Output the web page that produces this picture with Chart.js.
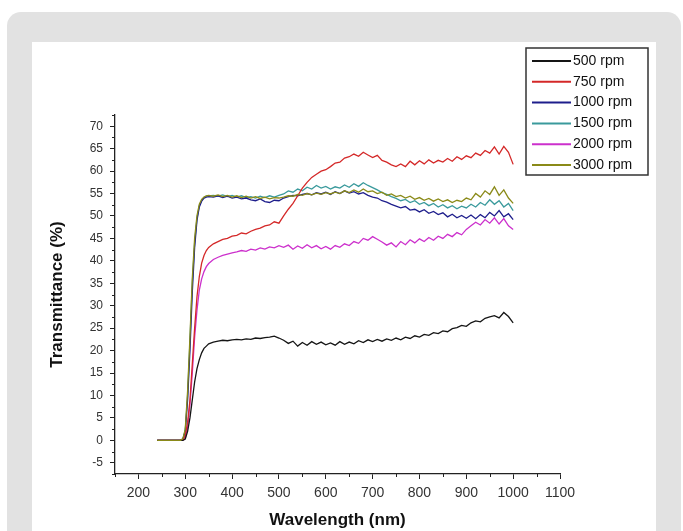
<!DOCTYPE html>
<html>
<head>
<meta charset="utf-8">
<script src="https://cdn.jsdelivr.net/npm/chart.js@4/dist/chart.umd.min.js"></script>
<style>
  html, body { margin:0; padding:0; background:#fff; width:683px; height:531px; overflow:hidden; }
  .panel { position:absolute; left:7px; top:12px; width:674px; height:540px; background:#e2e2e2; border-radius:14px 14px 0 0; }
  .card  { position:absolute; left:32px; top:42px; width:624px; height:500px; background:#fff; }
  #c { position:absolute; left:0; top:0; }
</style>
</head>
<body>
<div class="panel"></div>
<div class="card"></div>
<canvas id="c" width="683" height="531"></canvas>
<script>
const FONT = "'Liberation Sans', Arial, sans-serif";

// wavelength (nm)
const waves = [240, 290, 295, 300, 305, 310, 315, 320, 325, 330, 335, 340, 345, 350,
  360, 370, 380, 390, 400, 410, 420, 430, 440, 450, 460, 470, 480, 490, 500,
  510, 520, 530, 540, 550, 560, 570, 580, 590, 600, 610, 620, 630, 640, 650,
  660, 670, 680, 690, 700, 710, 720, 730, 740, 750, 760, 770, 780, 790, 800,
  810, 820, 830, 840, 850, 860, 870, 880, 890, 900, 910, 920, 930, 940, 950,
  960, 970, 980, 990, 1000];

const rpm500 = [0, 0, 0, 0.3, 2, 5, 9, 13, 16, 18, 19.5, 20.5, 21, 21.5,
  21.9, 22.1, 22.3, 22.2, 22.4, 22.5, 22.4, 22.6, 22.5, 22.8, 22.7, 22.9, 23.0, 23.2, 22.8,
  22.3, 21.6, 22.1, 21.0, 21.8, 21.2, 22.0, 21.4, 21.9, 21.3, 21.7, 21.2, 22.0, 21.4, 21.9,
  21.5, 22.2, 21.8, 22.4, 22.0, 22.5, 22.1, 22.6, 22.3, 22.8, 22.4, 23.0, 22.7, 23.3, 23.0,
  23.6, 23.4, 24.0, 23.8, 24.4, 24.2, 24.9, 25.1, 25.6, 25.4, 26.2, 26.6, 26.4, 27.2, 27.5,
  27.8, 27.3, 28.5, 27.6, 26.2];

const rpm750 = [0, 0, 0.2, 1, 4, 9, 17, 25, 32, 36.5, 39.5, 41.2, 42.3, 43,
  43.8, 44.3, 44.8, 45.0, 45.5, 45.7, 46.2, 46.0, 46.6, 47.0, 47.3, 47.8, 48.0, 48.7, 48.4,
  50.0, 51.5, 52.8, 54.5, 56.2, 57.5, 58.6, 59.3, 60.0, 60.3, 61.0, 61.8, 62.0, 62.9, 63.2,
  63.8, 63.3, 64.2, 63.6, 63.0, 63.5, 62.4, 62.0, 61.4, 61.0, 61.6, 61.0, 62.2, 61.4, 62.3,
  61.6, 62.5, 61.8, 62.4, 62.0, 62.8, 62.2, 63.2, 62.6, 63.4, 63.0, 64.0, 63.5, 64.6, 64.0,
  65.4, 63.8, 65.5, 64.2, 61.5];

const rpm1000 = [0, 0, 0.3, 2, 9, 20, 33, 43, 49, 52, 53.3, 54, 54.2, 54.3,
  54.2, 54.5, 54.1, 54.4, 54.0, 54.2, 53.8, 54.0, 53.6, 53.4, 53.8, 53.2, 53.0, 53.5, 53.4,
  54.0, 54.3, 54.6, 54.5, 54.8, 55.0, 54.7, 55.2, 54.9, 55.3, 54.8, 55.4, 55.0, 55.6, 55.1,
  55.4, 54.9, 55.2, 54.6, 54.2, 54.0, 53.4, 53.1, 52.6, 52.2, 51.8, 52.1, 51.3, 51.5, 50.9,
  51.4, 50.6, 51.0, 50.3, 50.7, 49.8, 50.4, 49.6, 50.1, 49.5, 50.2, 49.4, 50.3, 49.6, 50.8,
  50.0, 51.2, 49.8, 50.5, 49.2];

const rpm1500 = [0, 0, 0.3, 2.2, 10, 22, 35, 44, 49.5, 52.3, 53.5, 54.1, 54.4, 54.5,
  54.6, 54.4, 54.7, 54.3, 54.6, 54.2, 54.5, 54.1, 54.3, 54.0, 54.4, 54.1, 54.5, 54.2, 54.6,
  54.9, 55.6, 55.3, 56.0, 55.6, 56.4, 56.0, 56.8, 56.2, 56.6, 56.0, 56.5, 56.2, 56.9, 56.4,
  57.2, 56.6, 57.4, 56.8, 56.3, 55.8, 55.2, 54.8, 54.3, 53.9, 53.4, 53.7, 53.0, 53.4, 52.6,
  53.0, 52.3, 52.8, 52.0, 52.5, 51.8, 52.3, 51.6, 52.2, 51.8, 52.6, 52.0, 53.0, 52.4, 53.6,
  52.6, 53.4, 52.0, 52.8, 51.2];

const rpm2000 = [0, 0, 0, 0.5, 3, 8, 15, 23, 29, 33.5, 36, 37.6, 38.7, 39.4,
  40.3, 40.8, 41.2, 41.5, 41.8, 42.0, 42.3, 42.1, 42.6, 42.4, 42.9, 42.6, 43.1, 42.9, 43.4,
  43.0, 43.5, 42.6, 43.3, 42.8, 43.6, 42.9, 43.4, 42.7, 43.2, 42.6, 43.4, 43.0, 43.8, 43.4,
  44.3, 43.9, 45.0, 44.6, 45.4, 44.8, 44.2, 43.5, 44.0, 43.1, 44.3, 43.6, 44.7, 44.0, 44.9,
  44.3, 45.2, 44.6, 45.5, 45.0, 45.9, 45.4, 46.3, 45.8, 47.0, 47.8, 48.6, 48.0, 49.2, 48.4,
  49.6, 48.2, 49.4, 47.8, 47.0];

const rpm3000 = [0, 0, 0.4, 2.5, 11, 23, 36, 45, 50, 52.6, 53.7, 54.2, 54.5, 54.6,
  54.4, 54.7, 54.3, 54.6, 54.2, 54.5, 54.1, 54.4, 54.0, 54.3, 53.9, 54.2, 53.8, 54.1, 54.0,
  54.2, 54.5, 54.4, 54.8, 54.6, 55.0, 54.7, 55.1, 54.8, 55.2, 54.9, 55.3, 55.0, 55.6, 55.2,
  55.8, 55.3, 56.0, 55.4, 55.6, 55.0, 55.3, 54.6, 54.9, 54.3, 54.6, 54.0, 54.4, 53.7, 54.1,
  53.5, 53.9, 53.3, 53.8, 53.2, 53.6, 53.0, 53.5, 53.2, 54.0, 53.6, 55.0, 54.2, 55.6, 54.8,
  56.5, 54.6, 55.8, 54.0, 52.8];

const seriesNames  = ['500 rpm', '750 rpm', '1000 rpm', '1500 rpm', '2000 rpm', '3000 rpm'];
const seriesValues = [rpm500, rpm750, rpm1000, rpm1500, rpm2000, rpm3000];
const seriesColors = ['#151515', '#d42828', '#1e1e8c', '#3a9a9c', '#cc30cc', '#8a8a18'];

const xTicks = [200, 300, 400, 500, 600, 700, 800, 900, 1000, 1100];
const xMinor = [150, 250, 350, 450, 550, 650, 750, 850, 950, 1050];
const yTicks = [-5, 0, 5, 10, 15, 20, 25, 30, 35, 40, 45, 50, 55, 60, 65, 70];
const yMinor = [-7.5, -2.5, 2.5, 7.5, 12.5, 17.5, 22.5, 27.5, 32.5, 37.5, 42.5, 47.5, 52.5, 57.5, 62.5, 67.5, 72.5];

const AXIS = '#222';

// short minor ticks between the labelled ones
const minorTicks = {
  id: 'minorTicks',
  afterDraw(chart) {
    const { ctx, scales: { x, y }, chartArea: a } = chart;
    ctx.save();
    ctx.strokeStyle = AXIS;
    ctx.lineWidth = 1;
    ctx.beginPath();
    xMinor.forEach(v => { const px = Math.round(x.getPixelForValue(v)) + 0.5; ctx.moveTo(px, a.bottom); ctx.lineTo(px, a.bottom + 3); });
    yMinor.forEach(v => { const py = Math.round(y.getPixelForValue(v)) + 0.5; ctx.moveTo(a.left, py); ctx.lineTo(a.left - 3, py); });
    ctx.stroke();
    ctx.restore();
  }
};

// boxed legend in the top right corner
const boxLegend = {
  id: 'boxLegend',
  afterDraw(chart) {
    const ctx = chart.ctx;
    ctx.save();
    ctx.strokeStyle = '#333';
    ctx.lineWidth = 1.5;
    ctx.strokeRect(526, 48, 122, 127);
    ctx.font = '14px ' + FONT;
    ctx.textBaseline = 'middle';
    ctx.fillStyle = '#111';
    chart.data.datasets.forEach((ds, i) => {
      const yy = 61 + i * 20.8;
      ctx.strokeStyle = ds.borderColor;
      ctx.lineWidth = 2;
      ctx.beginPath();
      ctx.moveTo(532, yy); ctx.lineTo(571, yy);
      ctx.stroke();
      ctx.fillText(ds.label, 573, yy);
    });
    ctx.restore();
  }
};

new Chart(document.getElementById('c').getContext('2d'), {
  type: 'line',
  data: {
    datasets: seriesNames.map((name, i) => ({
      label: name,
      data: seriesValues[i].map((v, k) => ({ x: waves[k], y: v })),
      borderColor: seriesColors[i],
      borderWidth: 1.3,
      pointRadius: 0,
      tension: 0,
      fill: false,
      order: i === 5 ? -1 : i,
    })),
  },
  options: {
    responsive: false,
    animation: false,
    events: [],
    layout: { padding: { left: 40, top: 115, right: 123, bottom: 0 } },
    plugins: { legend: { display: false }, tooltip: { enabled: false } },
    scales: {
      x: {
        type: 'linear', min: 150, max: 1100,
        afterBuildTicks: s => { s.ticks = xTicks.map(v => ({ value: v })); },
        afterFit: s => { s.height = 57; },
        grid: { drawOnChartArea: false, tickLength: 5, tickColor: AXIS },
        border: { color: AXIS, width: 1.3 },
        ticks: { color: '#333', padding: 6, maxRotation: 0, autoSkip: false, font: { family: FONT, size: 14 }, callback: v => String(v) },
        title: { display: true, text: 'Wavelength (nm)', color: '#111', padding: { top: 0, bottom: 0 }, font: { family: FONT, size: 17, weight: 'bold' } },
      },
      y: {
        type: 'linear', min: -7.5, max: 72.5,
        afterBuildTicks: s => { s.ticks = yTicks.map(v => ({ value: v })); },
        afterFit: s => { s.width = 75; },
        grid: { drawOnChartArea: false, tickLength: 5, tickColor: AXIS },
        border: { color: AXIS, width: 1.3 },
        ticks: { color: '#333', padding: 7, autoSkip: false, font: { family: FONT, size: 12 }, callback: v => String(v) },
        title: { display: true, text: 'Transmittance (%)', color: '#111', padding: { top: 7, bottom: 0 }, font: { family: FONT, size: 17, weight: 'bold' } },
      },
    },
  },
  plugins: [minorTicks, boxLegend],
});
</script>
</body>
</html>
